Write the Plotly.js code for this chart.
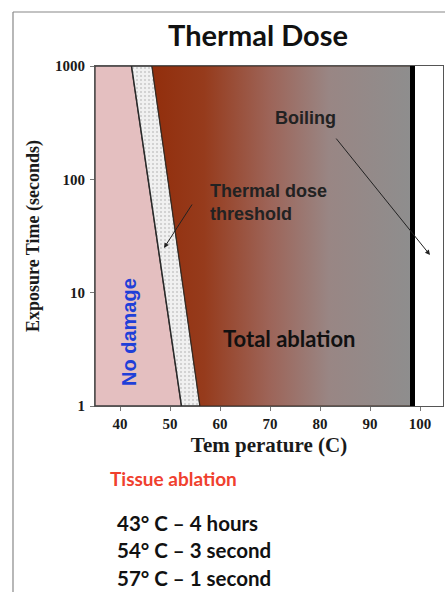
<!DOCTYPE html>
<html>
<head>
<meta charset="utf-8">
<script src="https://cdn.plot.ly/plotly-3.0.1.min.js"></script>
<style>html,body{margin:0;padding:0;background:#fff;}#chart{width:445px;height:592px;}</style>
</head>
<body>
<div id="chart"></div>
<script>
// ---- data ----
const timeBounds = [1, 1000];            // exposure time (s): bottom, top
const noDamageEdge = [52.3, 42.3];       // temperature of no-damage edge at t=1, t=1000
const thresholdEdge = [56.0, 46.4];      // temperature of thermal-dose threshold edge at t=1, t=1000
const boilingTemp = 98.5;                // boiling line (C)
const tempAxisRange = [35, 104.6];
const tempTicks = [40, 50, 60, 70, 80, 90, 100];
const timeTicks = [1, 10, 100, 1000];
const timeTickText = ['1', '10', '100', '1000'];
const noteLines = ['43° C – 4 hours', '54° C – 3 second', '57° C – 1 second'];

const tMin = tempAxisRange[0];
const yTop = timeBounds[1], yBot = timeBounds[0];

const serif = {family: 'Liberation Serif, Times New Roman, serif', weight: 700, color: '#1a1a1a'};

const traces = [
  { // no damage region
    type: 'scatter', mode: 'lines', fill: 'toself', hoverinfo: 'skip', showlegend: false,
    x: [tMin, noDamageEdge[1], noDamageEdge[0], tMin, tMin],
    y: [yTop, yTop, yBot, yBot, yTop],
    fillcolor: '#e4bfc0', line: {color: '#3a3a3a', width: 1.3}
  },
  { // threshold band
    type: 'scatter', mode: 'lines', fill: 'toself', hoverinfo: 'skip', showlegend: false,
    x: [noDamageEdge[1], thresholdEdge[1], thresholdEdge[0], noDamageEdge[0], noDamageEdge[1]],
    y: [yTop, yTop, yBot, yBot, yTop],
    fillcolor: '#efefef',
    fillpattern: {shape: '.', bgcolor: '#f0f0f0', fgcolor: '#c9c9c9', size: 4, solidity: 0.2},
    line: {color: '#2a2a2a', width: 1.5}
  },
  { // total ablation region
    type: 'scatter', mode: 'lines', fill: 'toself', hoverinfo: 'skip', showlegend: false,
    x: [thresholdEdge[1], boilingTemp, boilingTemp, thresholdEdge[0], thresholdEdge[1]],
    y: [yTop, yTop, yBot, yBot, yTop],
    fillgradient: {
      type: 'horizontal', start: thresholdEdge[1], stop: boilingTemp,
      colorscale: [[0, '#922e0c'], [0.2, '#963b1c'], [0.45, '#9d6458'], [0.68, '#998684'], [1, '#8e8e8e']]
    },
    line: {color: '#3a2a20', width: 1}
  },
  { // boiling line
    type: 'scatter', mode: 'lines', hoverinfo: 'skip', showlegend: false,
    x: [boilingTemp, boilingTemp], y: [yBot, yTop],
    line: {color: '#000', width: 5}
  }
];

const lg = v => Math.log10(v);
const annFont = {family: 'Liberation Sans, Arial, sans-serif', weight: 700, size: 18, color: '#222'};
const cal = {family: 'Lato, Noto Sans, sans-serif', weight: 700};

const annotations = [
  {x: 77, y: lg(348), xref: 'x', yref: 'y', text: 'Boiling', showarrow: false, font: annFont, xanchor: 'center', yanchor: 'middle'},
  {x: 102, y: lg(21.5), xref: 'x', yref: 'y', ax: 83, ay: lg(236), axref: 'x', ayref: 'y', text: '', showarrow: true,
   arrowhead: 2, arrowsize: 1, arrowwidth: 1, arrowcolor: '#222'},
  {x: 57.6, y: lg(63), xref: 'x', yref: 'y', text: 'Thermal dose<br>threshold', showarrow: false, font: annFont,
   xanchor: 'left', yanchor: 'middle', align: 'left'},
  {x: 48.8, y: lg(24.8), xref: 'x', yref: 'y', ax: 54.6, ay: lg(61.8), axref: 'x', ayref: 'y', text: '', showarrow: true,
   arrowhead: 2, arrowsize: 1, arrowwidth: 1, arrowcolor: '#222'},
  {x: 73.8, y: lg(3.98), xref: 'x', yref: 'y', text: 'Total ablation', showarrow: false,
   font: Object.assign({size: 22, color: '#111'}, cal), xanchor: 'center', yanchor: 'middle'},
  {x: 41.8, y: lg(4.5), xref: 'x', yref: 'y', text: 'No damage', showarrow: false, textangle: -90,
   font: {family: 'Liberation Sans, Arial, sans-serif', weight: 700, size: 20, color: '#1f3fd8'}, xanchor: 'center', yanchor: 'middle'},
  {x: 0.0374, y: -0.2147, xref: 'paper', yref: 'paper', text: 'Tissue ablation', showarrow: false,
   font: Object.assign({size: 19, color: '#f0402e'}, cal), xanchor: 'left', yanchor: 'middle'},
];
const lineYs = [-0.344, -0.424, -0.506];
noteLines.forEach((t, i) => annotations.push({
  x: 0.0575, y: lineYs[i], xref: 'paper', yref: 'paper', text: t, showarrow: false,
  font: Object.assign({size: 20.5, color: '#111'}, cal), xanchor: 'left', yanchor: 'middle'
}));

const layout = {
  width: 445, height: 592,
  margin: {l: 95, r: 2, t: 66, b: 186},
  paper_bgcolor: '#fff', plot_bgcolor: '#fff',
  title: {text: 'Thermal Dose', x: 258 / 445, xref: 'container', xanchor: 'center',
          y: 1 - 36 / 592, yref: 'container', yanchor: 'middle',
          font: Object.assign({size: 29, color: '#111'}, cal)},
  xaxis: {
    range: tempAxisRange, tickvals: tempTicks, showgrid: false, zeroline: false,
    showline: true, mirror: true, linecolor: '#555', linewidth: 1,
    ticks: 'outside', ticklen: 4, tickcolor: '#777',
    tickfont: Object.assign({size: 15}, serif),
    title: {text: 'Tem perature (C)', standoff: 6, font: Object.assign({size: 21}, serif)},
    automargin: false, fixedrange: true
  },
  yaxis: {
    type: 'log', range: [lg(timeBounds[0]), lg(timeBounds[1])], tickvals: timeTicks, ticktext: timeTickText,
    showgrid: false, zeroline: false,
    showline: true, mirror: true, linecolor: '#555', linewidth: 1,
    ticks: 'outside', ticklen: 4, tickcolor: '#777', ticklabelstandoff: 2,
    tickfont: Object.assign({size: 15}, serif),
    title: {text: 'Exposure Time (seconds)', standoff: 10, font: Object.assign({size: 18}, serif)},
    automargin: false, fixedrange: true
  },
  annotations: annotations,
  shapes: [
    {type: 'line', xref: 'paper', yref: 'paper', x0: (13 - 95) / 348, x1: (13 - 95) / 348, y0: (406 - 12) / 340, y1: (406 - 592) / 340,
     line: {color: '#888', width: 1.2}},
    {type: 'line', xref: 'paper', yref: 'paper', x0: (13 - 95) / 348, x1: (445 - 95) / 348, y0: (406 - 12) / 340, y1: (406 - 12) / 340,
     line: {color: '#888', width: 1.2}}
  ]
};

Plotly.newPlot('chart', traces, layout, {displayModeBar: false, staticPlot: true});
</script>
</body>
</html>
